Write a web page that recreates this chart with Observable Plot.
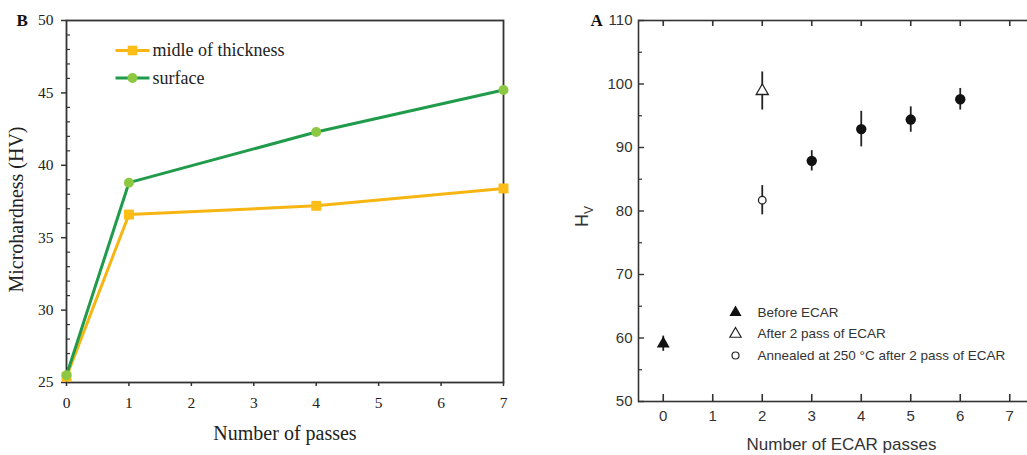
<!DOCTYPE html>
<html><head><meta charset="utf-8">
<script src="https://cdn.jsdelivr.net/npm/d3@7"></script>
<script src="https://cdn.jsdelivr.net/npm/@observablehq/plot@0.6"></script>
<style>
body{margin:0;background:#fff;}
#wrap{position:relative;width:1027px;height:455px;overflow:hidden;background:#fff;}
#left{position:absolute;left:0;top:0;width:520px;}
#right{position:absolute;left:560px;top:0;width:480px;}
#wrap svg{max-width:none !important;}
</style></head><body><div id="wrap"><div id="left"></div><div id="right"></div></div>
<script>
// ---------- Panel B data ----------
const passesB = [0, 1, 4, 7];
const middleHV = [25.4, 36.6, 37.2, 38.4];
const surfaceHV = [25.5, 38.8, 42.3, 45.2];
const seriesB = ["midle of thickness", "surface"];
const xTicksB = [0, 1, 2, 3, 4, 5, 6, 7];
const yTicksB = [25, 30, 35, 40, 45, 50];
const yMinorB = d3.range(26, 50).filter(v => v % 5 !== 0);

// ---------- Panel A data ----------
const groupsA = ["Before ECAR", "After 2 pass of ECAR", "Annealed at 250 °C after 2 pass of ECAR", "ECAR passes"];
const passesA = [0, 2, 2, 3, 4, 5, 6];
const hvA = [59.1, 98.9, 81.7, 87.9, 92.9, 94.4, 97.6];
const errA = [1.2, 3.0, 2.3, 1.6, 2.8, 2.0, 1.7];
const groupA = [0, 1, 2, 3, 3, 3, 3];
const xTicksA = [0, 1, 2, 3, 4, 5, 6, 7];
const yTicksA = [50, 60, 70, 80, 90, 100, 110];
const yMinorA = [55, 65, 75, 85, 95, 105];

// ---------- Panel B ----------
const orange = "#f7b512", orangeFill = "#fbbd16";
const green = "#1f9b4b", greenFill = "#8cc841";
const tableB = passesB.flatMap((p, i) => [
  {pass: p, hv: middleHV[i], s: seriesB[0]},
  {pass: p, hv: surfaceHV[i], s: seriesB[1]}
]);
const hline = {draw(ctx) { ctx.moveTo(-17, 0); ctx.lineTo(17, 0); }};
const WL = 520, HL = 455, mLL = 66, mRL = 17, mTL = 20, mBL = 73;
const innerWL = WL - mLL - mRL, innerHL = HL - mTL - mBL;
const legendB = seriesB.map((s, i) => {
  const c = i === 0 ? orange : green, f = i === 0 ? orangeFill : greenFill;
  const dy = 30 + i * 27.5;
  return [
    Plot.dot([s], {frameAnchor: "top-left", dx: 66, dy, symbol: hline, stroke: c, strokeWidth: 3, fill: "none"}),
    Plot.dot([s], {frameAnchor: "top-left", dx: 66, dy, symbol: i === 0 ? "square" : "circle", r: i === 0 ? 5.4 : 5, fill: f, stroke: "none"}),
    Plot.text([s], {frameAnchor: "top-left", dx: 86, dy, text: d => d, textAnchor: "start", lineAnchor: "middle", fontSize: 18, fill: "#222"})
  ];
}).flat();

const plotB = Plot.plot({
  width: WL, height: HL,
  marginLeft: mLL, marginRight: mRL, marginTop: mTL, marginBottom: mBL,
  style: {fontFamily: "Liberation Serif", fontSize: "15.5px", color: "#222", background: "transparent"},
  x: {domain: [0, 7]},
  y: {domain: [25, 50]},
  marks: [
    Plot.axisY({ticks: yTicksB, tickSize: 5, tickPadding: 8, tickFormat: "d", label: null, stroke: "#333", strokeWidth: 1.5}),
    Plot.axisX({ticks: xTicksB, tickSize: 4, tickPadding: 10, tickFormat: "d", label: null, stroke: "#333", strokeWidth: 1.5}),
    Plot.tickY(yMinorB, {y: d => d, insetRight: innerWL - 4, stroke: "#333", strokeWidth: 1.2}),
    Plot.frame({stroke: "#333", strokeWidth: 1.8}),
    Plot.line(tableB.filter(d => d.s === seriesB[0]), {x: "pass", y: "hv", stroke: orange, strokeWidth: 3}),
    Plot.line(tableB.filter(d => d.s === seriesB[1]), {x: "pass", y: "hv", stroke: green, strokeWidth: 3}),
    Plot.dot(tableB.filter(d => d.s === seriesB[0]), {x: "pass", y: "hv", symbol: "square", r: 5.6, fill: orangeFill}),
    Plot.dot(tableB.filter(d => d.s === seriesB[1]), {x: "pass", y: "hv", symbol: "circle", r: 5, fill: greenFill}),
    ...legendB,
    Plot.text(["Number of passes"], {frameAnchor: "bottom", dy: 51, lineAnchor: "middle", fontSize: 20, fill: "#222"}),
    Plot.text(["Microhardness (HV)"], {frameAnchor: "left", dx: -50, dy: 8, rotate: -90, textAnchor: "middle", lineAnchor: "middle", fontSize: 20, fill: "#222"}),
    Plot.text(["B"], {frameAnchor: "top-left", dx: -50, dy: 0, textAnchor: "start", lineAnchor: "middle", fontSize: 17, fontWeight: "bold", fill: "#111"})
  ]
});
document.getElementById("left").append(plotB);

// ---------- Panel A ----------
const tableA = passesA.map((p, i) => ({pass: p, hv: hvA[i], err: errA[i], g: groupA[i]}));
const WR = 480, HR = 455, mLR = 78, mRR = 6, mTR = 20, mBR = 54;
const innerWR = WR - mLR - mRR, innerHR = HR - mTR - mBR;
const symStyle = [
  {symbol: "triangle", fill: "#111", stroke: "none", r: 4.8},
  {symbol: "triangle", fill: "white", stroke: "#222", r: 4.5},
  {symbol: "circle", fill: "white", stroke: "#222", r: 3.8},
  {symbol: "circle", fill: "#111", stroke: "none", r: 5.2}
];
const legendA = groupsA.slice(0, 3).map((g, i) => {
  const s = symStyle[i];
  const dy = -89 + i * 21.5;
  return [
    Plot.dot([g], {frameAnchor: "bottom-left", dx: 97, dy, symbol: s.symbol, r: s.r - 0.3, fill: s.fill, stroke: s.stroke, strokeWidth: 1.2}),
    Plot.text([g], {frameAnchor: "bottom-left", dx: 119, dy, text: d => d, textAnchor: "start", lineAnchor: "middle", fontSize: 13.5, fill: "#333"})
  ];
}).flat();

const plotA = Plot.plot({
  width: WR, height: HR,
  marginLeft: mLR, marginRight: mRR, marginTop: mTR, marginBottom: mBR,
  style: {fontFamily: "Liberation Sans", fontSize: "15px", color: "#333", background: "transparent"},
  x: {domain: [-0.5, 7.5]},
  y: {domain: [50, 110]},
  marks: [
    Plot.axisY({ticks: yTicksA, tickSize: 0, tickPadding: 6, label: null}),
    Plot.axisX({ticks: xTicksA, tickSize: 0, tickPadding: 9, label: null}),
    Plot.tickY(yTicksA, {y: d => d, insetRight: innerWR - 6, stroke: "#333", strokeWidth: 1.4}),
    Plot.tickY(yTicksA, {y: d => d, insetLeft: innerWR - 6, stroke: "#333", strokeWidth: 1.4}),
    Plot.tickY(yMinorA, {y: d => d, insetRight: innerWR - 4, stroke: "#333", strokeWidth: 1.2}),
    Plot.tickY(yMinorA, {y: d => d, insetLeft: innerWR - 4, stroke: "#333", strokeWidth: 1.2}),
    Plot.tickX(xTicksA, {x: d => d, insetTop: innerHR - 7, stroke: "#333", strokeWidth: 1.6}),
    Plot.tickX(xTicksA, {x: d => d, insetBottom: innerHR - 6, stroke: "#333", strokeWidth: 1.6}),
    Plot.frame({stroke: "#333", strokeWidth: 1.6}),
    Plot.ruleX(tableA, {x: "pass", y1: d => d.hv - d.err, y2: d => d.hv + d.err, stroke: "#222", strokeWidth: 1.8}),
    ...symStyle.map((s, gi) => Plot.dot(tableA.filter(d => d.g === gi), {x: "pass", y: "hv", symbol: s.symbol, r: s.r, fill: s.fill, stroke: s.stroke, strokeWidth: 1.3})),
    ...legendA,
    Plot.text(["Number of ECAR passes"], {frameAnchor: "bottom", dx: 5, dy: 43, lineAnchor: "middle", fontSize: 17, fill: "#333"}),
    Plot.text(["A"], {frameAnchor: "top-left", dx: -48, dy: 0, textAnchor: "start", lineAnchor: "middle", fontSize: 17, fontWeight: "bold", fontFamily: "Liberation Serif", fill: "#111"})
  ]
});
// rotated H with subscript V
const svgA = d3.select(plotA.tagName.toLowerCase() === "svg" ? plotA : plotA.querySelector("svg"));
const hv = svgA.append("text")
  .attr("transform", `translate(${mLR - 50},${(mTR + HR - mBR) / 2 + 6}) rotate(-90)`)
  .attr("text-anchor", "middle")
  .attr("font-family", "Liberation Sans").attr("font-size", 18).attr("fill", "#333");
hv.append("tspan").text("H");
hv.append("tspan").attr("font-size", 12).attr("dy", 5).text("V");
document.getElementById("right").append(plotA);
</script>
</body></html>
